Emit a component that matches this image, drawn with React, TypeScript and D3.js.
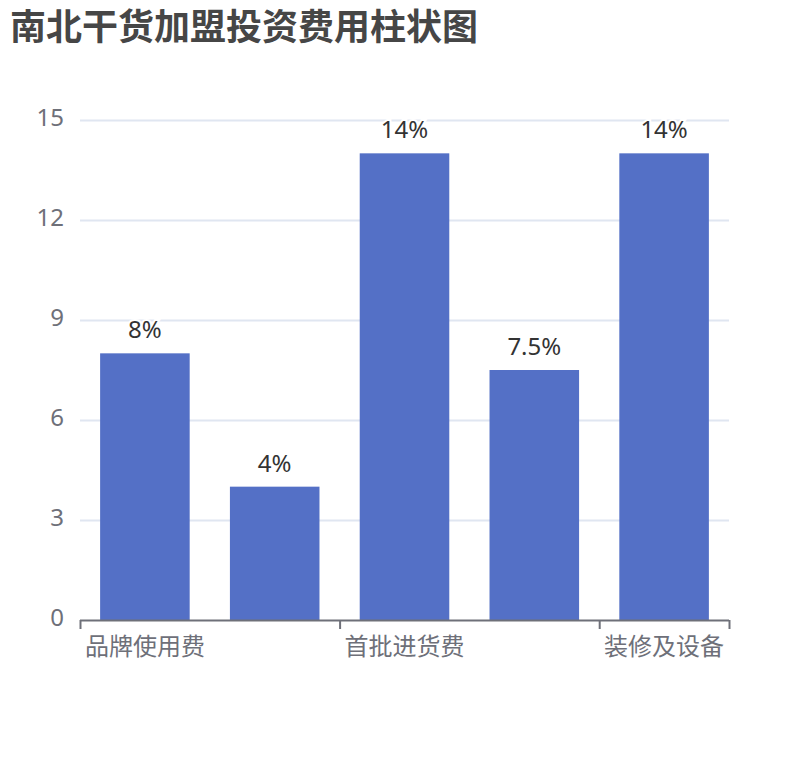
import { useMemo } from 'react';
import * as d3 from 'd3';

const TITLE = '南北干货加盟投资费用柱状图';
const categories = ['品牌使用费', '加盟费', '首批进货费', '保证金', '装修及设备'];
const values = [8, 4, 14, 7.5, 14];
const yTicks = [0, 3, 6, 9, 12, 15];
const LABEL_INTERVAL = 2;

const FONT = '"Noto Sans", "Noto Sans CJK SC", sans-serif';
const BAR_COLOR = '#5470C6';
const AXIS_COLOR = '#6E7079';
const SPLIT_COLOR = '#E0E6F1';

const width = 810;
const height = 760;
const margin = { top: 120, right: 81, bottom: 140, left: 80 };

export default function App() {
  const boundsWidth = width - margin.left - margin.right;
  const boundsHeight = height - margin.top - margin.bottom;

  const xScale = useMemo(
    () => d3.scaleBand().domain(categories).range([0, boundsWidth]).padding(0),
    [boundsWidth]
  );
  const yScale = useMemo(
    () => d3.scaleLinear().domain([0, 15]).range([boundsHeight, 0]),
    [boundsHeight]
  );

  const bw = xScale.bandwidth();
  const barWidth = bw * 0.69;

  // ticks at the boundaries of every shown label, plus the end
  const tickXs = categories
    .map((c, i) => (i % LABEL_INTERVAL === 0 ? xScale(c)! : null))
    .filter((v) => v !== null) as number[];
  tickXs.push(boundsWidth);

  return (
    <div style={{ margin: -8 }}>
      <svg width={width} height={height} style={{ display: 'block', fontFamily: FONT }}>
        <text x={10} y={39.5} fontSize={36} fontWeight="bold" fill="#464646">
          {TITLE}
        </text>
        <g transform={`translate(${margin.left},${margin.top})`}>
          {yTicks.map((t) => (
            <g key={t}>
              {t !== 0 && (
                <line x1={0} x2={boundsWidth} y1={yScale(t) + 0.5} y2={yScale(t) + 0.5} stroke={SPLIT_COLOR} strokeWidth={2} />
              )}
              <text x={-16} y={yScale(t) + 6} textAnchor="end" fontSize={24} fill={AXIS_COLOR}>
                {t}
              </text>
            </g>
          ))}

          {categories.map((c, i) => (
            <rect
              key={c}
              x={xScale(c)! + (bw - barWidth) / 2}
              y={yScale(values[i])}
              width={barWidth}
              height={boundsHeight - yScale(values[i])}
              fill={BAR_COLOR}
            />
          ))}

          {categories.map((c, i) => (
            <text
              key={c}
              x={xScale(c)! + bw / 2}
              y={yScale(values[i]) - 15}
              textAnchor="middle"
              fontSize={24}
              fill="#333"
              stroke="#fff"
              strokeWidth={4}
              paintOrder="stroke"
            >
              {values[i] + '%'}
            </text>
          ))}

          <line x1={0} x2={boundsWidth} y1={boundsHeight + 0.5} y2={boundsHeight + 0.5} stroke={AXIS_COLOR} strokeWidth={2} />
          {tickXs.map((x) => (
            <line key={x} x1={x + 0.5} x2={x + 0.5} y1={boundsHeight} y2={boundsHeight + 9} stroke={AXIS_COLOR} strokeWidth={2} />
          ))}
          {categories.map((c, i) =>
            i % LABEL_INTERVAL === 0 ? (
              <text key={c} x={xScale(c)! + bw / 2} y={boundsHeight + 35} textAnchor="middle" fontSize={24} fill={AXIS_COLOR}>
                {c}
              </text>
            ) : null
          )}
        </g>
      </svg>
    </div>
  );
}
